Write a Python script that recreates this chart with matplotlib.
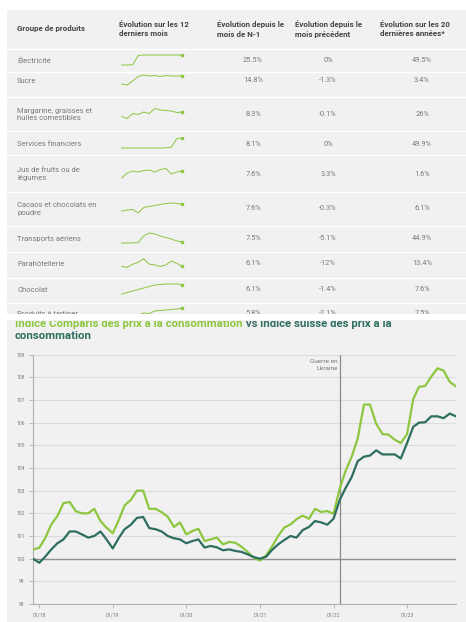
import pandas as pd
import matplotlib
matplotlib.use("Agg")
import matplotlib.pyplot as plt

W, H = 466, 622
plt.rcParams['font.family'] = ['Roboto', 'DejaVu Sans']

# ---------------- table data ----------------
headers = ["Groupe de produits", "Évolution sur les 12\nderniers mois",
           "Évolution depuis le\nmois de N-1", "Évolution depuis le\nmois précédent",
           "Évolution sur les 20\ndernières années*"]
products = ["Électricité", "Sucre", "Margarine, graisses et\nhuiles comestibles",
            "Services financiers", "Jus de fruits ou de\nlégumes",
            "Cacaos et chocolats en\npoudre", "Transports aériens",
            "Parahôtellerie", "Chocolat", "Produits à tartiner"]
yoy = ["25.5%", "14.8%", "8.3%", "8.1%", "7.6%", "7.6%", "7.5%", "6.1%", "6.1%", "5.8%"]
mom = ["0%", "-1.3%", "-0.1%", "0%", "3.3%", "-0.3%", "-5.1%", "-12%", "-1.4%", "-2.1%"]
long20 = ["49.5%", "3.4%", "26%", "49.9%", "1.6%", "6.1%", "44.9%", "13.4%", "7.6%", "7.5%"]
spark = [
    [0, 0, 0.02, 0.95, 1, 1, 1, 1, 1, 1, 1, 1],
    [0.1, 0, 0.4, 0.85, 1, 0.9, 0.95, 0.85, 0.95, 0.9, 0.9, 0.92],
    [0.2, 0, 0.5, 0.4, 0.65, 0.5, 1, 0.85, 0.8, 0.75, 0.6, 0.65],
    [0, 0, 0, 0, 0, 0, 0, 0, 0.02, 0.08, 0.95, 1],
    [0, 0.5, 0.7, 0.6, 0.75, 0.8, 0.6, 0.85, 0.95, 0.4, 0.6, 0.7],
    [0.2, 0.3, 0.35, 0, 0.55, 0.65, 0.75, 0.85, 0.95, 1, 0.95, 0.9],
    [0, 0, 0, 0.05, 0.7, 1, 0.9, 0.7, 0.55, 0.4, 0.2, 0.1],
    [0.16, 0.06, 0.38, 0.56, 0.94, 0.38, 0.31, 0.16, 0.31, 0.69, 0.47, 0.16],
    [0, 0.15, 0.3, 0.45, 0.6, 0.75, 0.9, 0.95, 1, 1, 1, 0.95],
    [0, 0.1, 0.2, 0.3, 0.5, 0.45, 0.7, 0.75, 0.8, 0.85, 0.9, 1],
]

# ---------------- chart data ----------------
months = pd.date_range("2017-12-01", "2023-09-01", freq="MS")
comparis = [100.4, 100.48, 100.93, 101.5, 101.88, 102.45, 102.5, 102.1, 102.0, 102.0,
            102.2, 101.66, 101.37, 101.12, 101.73, 102.35, 102.6, 103.0, 103.0, 102.2,
            102.2, 102.05, 101.85, 101.4, 101.6, 101.07, 101.22, 101.32, 100.78, 100.85,
            100.93, 100.63, 100.74, 100.7, 100.53, 100.29, 100.04, 99.92, 100.15, 100.53,
            101.0, 101.37, 101.51, 101.74, 101.9, 101.76, 102.2, 102.06, 102.1, 101.98,
            103.1, 103.85, 104.5, 105.3, 106.8, 106.8, 105.95, 105.5, 105.47, 105.25,
            105.1, 105.5, 107.05, 107.58, 107.62, 108.03, 108.4, 108.3, 107.8, 107.6]
ipc = [100.0, 99.82, 100.1, 100.4, 100.68, 100.85, 101.2, 101.2, 101.07, 100.93,
       101.0, 101.2, 100.85, 100.45, 100.93, 101.3, 101.5, 101.8, 101.84, 101.35,
       101.3, 101.2, 101.0, 100.9, 100.85, 100.68, 100.78, 100.85, 100.49, 100.56,
       100.5, 100.37, 100.41, 100.34, 100.3, 100.19, 100.07, 100.0, 100.09, 100.38,
       100.63, 100.82, 101.0, 100.93, 101.26, 101.4, 101.66, 101.6, 101.5, 101.76,
       102.6, 103.1, 103.6, 104.3, 104.5, 104.55, 104.78, 104.6, 104.6, 104.6,
       104.42, 105.1, 105.82, 106.0, 106.02, 106.28, 106.28, 106.2, 106.4, 106.28]
y_ticks = list(range(98, 110))
x_ticks = pd.to_datetime(["2018-01-01", "2019-01-01", "2020-01-01",
                          "2021-01-01", "2022-01-01", "2023-01-01"])
x_labels = ["01/18", "01/19", "01/20", "01/21", "01/22", "01/23"]
war_date = pd.Timestamp("2022-02-01")

LIGHT = "#8dc63f"
DARK = "#2e6e60"
BG = "#f1f1f1"
TXT = "#7a7a7a"

fig = plt.figure(figsize=(W / 100, H / 100), dpi=100)
fig.patch.set_facecolor("white")


def px_axes(x0, y0, w, h, **kw):
    return fig.add_axes([x0 / W, 1 - (y0 + h) / H, w / W, h / H], **kw)


# ---------------- table ----------------
tab = px_axes(7, 10, W - 7, 304)
tab.set_facecolor(BG)
tab.set_xlim(7, W)
tab.set_ylim(314, 10)
tab.axis("off")
tab.add_patch(plt.Rectangle((7, 10), W - 7, 304, color=BG, zorder=0))

head_x = [17, 119, 217, 295, 380]
for hx, ht in zip(head_x, headers):
    tab.text(hx, 29, ht, fontsize=5.7, fontweight="bold", color="#444444",
             va="center", ha="left", linespacing=1.4)

row_y = [61, 81, 114.5, 144, 174, 209, 239, 264, 290, 314]
seps = [49, 72, 97, 131, 155, 192, 226, 252, 278, 303]
for s in seps:
    tab.axhline(s, color="white", lw=1.0)

for i, yc in enumerate(row_y):
    tab.text(17, yc, products[i], fontsize=5.5, color=TXT, va="center",
             ha="left", linespacing=1.4, clip_on=True)
    tab.text(253, yc, yoy[i], fontsize=5.3, color=TXT, va="center", ha="center", clip_on=True)
    tab.text(328, yc, mom[i], fontsize=5.3, color=TXT, va="center", ha="center", clip_on=True)
    tab.text(422, yc, long20[i], fontsize=5.3, color=TXT, va="center", ha="center", clip_on=True)

    sp = px_axes(120, yc - 7, 64, 12)
    sp.axis("off")
    sp.set_xlim(-0.3, 11.3)
    sp.set_ylim(-0.1, 1.1)
    ln, = sp.plot(range(12), spark[i], color=LIGHT, lw=0.7)
    dot, = sp.plot([11], [spark[i][-1]], "o", color=LIGHT, ms=1.6)
    if i == len(row_y) - 1:
        ln.set_clip_path(tab.patch)
        dot.set_clip_path(tab.patch)

# ---------------- chart panel ----------------
bg = px_axes(7, 320, W - 7, H - 320)
bg.set_facecolor(BG)
bg.set_xlim(7, W)
bg.set_ylim(H, 320)
bg.set_xticks([])
bg.set_yticks([])
for s in bg.spines.values():
    s.set_visible(False)

# title: first line is partly hidden under the table, as in the screenshot
head = px_axes(7, 321.5, W - 7, 30)
head.axis("off")
head.set_xlim(7, W)
head.set_ylim(351.5, 321.5)
TS = 8.2
tkw = dict(fontsize=TS, fontweight="bold", va="baseline", clip_on=True)
t1 = head.text(15, 327.5, "Indice Comparis des prix à la consommation", color=LIGHT, **tkw)
t2 = head.annotate(" vs ", xy=(1, 0), xycoords=t1, va="bottom", color="#3f6f66",
                   fontsize=TS, fontweight="bold", annotation_clip=False, clip_on=True)
t3 = head.annotate("Indice suisse des prix à la", xy=(1, 0), xycoords=t2, va="bottom",
                   color=DARK, fontsize=TS, fontweight="bold", annotation_clip=False,
                   clip_on=True)
head.text(15, 339.5, "consommation", color=DARK, **tkw)

ax = px_axes(33, 354.7, 423, 249.3)
ax.patch.set_alpha(0)
ax.plot(months, comparis, color=LIGHT, lw=1.6, zorder=4)
ax.plot(months, ipc, color=DARK, lw=1.6, zorder=5)

ax.set_ylim(98, 109)
ax.set_xlim(pd.Timestamp("2017-12-01"), pd.Timestamp("2023-09-01"))
ax.set_yticks(y_ticks)
ax.set_xticks(x_ticks)
ax.set_xticklabels(x_labels)
ax.yaxis.grid(True, color="#dcdcdc", lw=0.8)
ax.set_axisbelow(True)
ax.axhline(100, color="#8f8f8f", lw=1.0, zorder=2)
ax.axvline(war_date, color="#8a8a8a", lw=0.9, zorder=3)
ax.text(war_date - pd.Timedelta(days=10), 108.8, "Guerre en\nUkraine", fontsize=4.6,
        color="#777777", ha="right", va="top", linespacing=1.5)

for side in ["top", "right"]:
    ax.spines[side].set_visible(False)
ax.spines["left"].set_color("#b0b0b0")
ax.spines["bottom"].set_color("#b0b0b0")
ax.tick_params(axis="both", labelsize=3.6, labelcolor="#777777", color="#b0b0b0",
               length=3, width=0.6, pad=3)

fig.savefig("out.png", dpi=100, facecolor="white")
